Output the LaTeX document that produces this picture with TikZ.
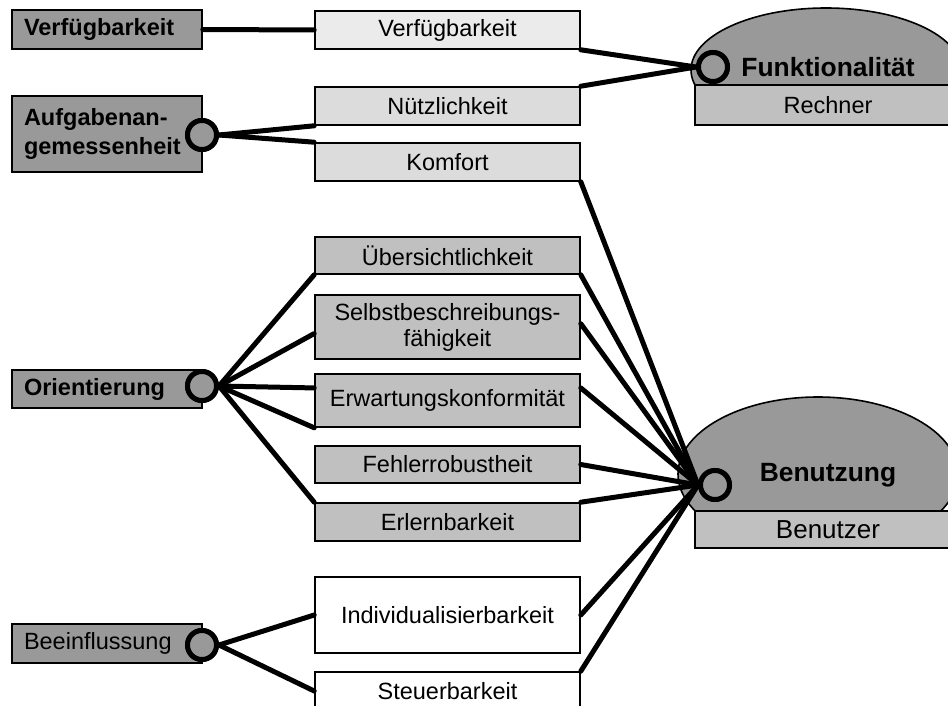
\documentclass[tikz,border=0pt]{standalone}
\usepackage{fontspec}
\setmainfont{Liberation Sans}
\usetikzlibrary{calc}
\definecolor{gdark}{HTML}{999999}
\definecolor{gmid}{HTML}{C0C0C0}
\definecolor{glight}{HTML}{DCDCDC}
\definecolor{gxlight}{HTML}{EBEBEB}
\begin{document}
\begin{tikzpicture}[x=1pt,y=-1pt,
  every node/.style={font=\fontsize{23.5}{29}\selectfont, text=black},
  leftbox/.style={draw=black, line width=1.6pt, fill=gdark, minimum width=190pt, text width=166pt, inner xsep=12pt, align=left, inner ysep=0pt},
  midbox/.style={draw=black, line width=1.6pt, minimum width=265pt, align=center, inner ysep=0pt, inner xsep=0pt},
  basebox/.style={draw=black, line width=1.6pt, fill=gmid, minimum width=266pt, inner ysep=0pt},
  knob/.style={circle, draw=black, line width=5pt, fill=gdark, minimum size=29pt, inner sep=0pt},
  conn/.style={line width=5pt, line cap=round}
]
\useasboundingbox (0,0) rectangle (948,706);
\fill[white] (0,0) rectangle (948,706);

% domes
\begin{scope}
  \clip (600,0) rectangle (1000,87);
  \filldraw[fill=gdark, draw=black, line width=1.6pt] (826,70) ellipse [x radius=135pt, y radius=62pt];
\end{scope}
\begin{scope}
  \clip (600,380) rectangle (1000,511);
  \filldraw[fill=gdark, draw=black, line width=1.6pt] (818,474) ellipse [x radius=140pt, y radius=77pt];
\end{scope}
\node[basebox, minimum height=40pt] (rech) at (828,105) {Rechner};
\node[basebox, minimum height=37pt, font=\fontsize{26}{30}\selectfont] (benr) at (828,529.5) {Benutzer};
\node[font=\fontsize{26.4}{30}\bfseries] (funk) at (828,67) {Funktionalität};
\node[font=\fontsize{26.4}{30}\bfseries] (benu) at (828,475) {Benutzung};

% left boxes
\node[leftbox, minimum height=39pt, font=\fontsize{23.5}{29}\bfseries] (verf1) at (107,29.5) {Verfügbarkeit};
\node[leftbox, minimum height=76pt, font=\fontsize{23.5}{29}\bfseries] (aufg) at (107,134) {Aufgabenan-\\gemessenheit};
\node[leftbox, minimum height=38pt, font=\fontsize{23.5}{29}\bfseries] (orie) at (107,389) {Orientierung};
\node[leftbox, minimum height=39pt] (beei) at (107,643.5) {Beeinflussung};

% middle boxes
\node[midbox, fill=gxlight, minimum height=38pt] (verf2) at (447.5,30) {Verfügbarkeit};
\node[midbox, fill=glight, minimum height=38pt] (nuetz) at (447.5,106) {Nützlichkeit};
\node[midbox, fill=glight, minimum height=38pt] (komf) at (447.5,162) {Komfort};
\node[midbox, fill=gmid, minimum height=37pt] (ueber) at (447.5,255.5) {Übersichtlichkeit};
\node[midbox, fill=gmid, minimum height=64pt, font=\fontsize{23.5}{26}\selectfont] (selbst) at (447.5,327) {Selbstbeschreibungs-\\fähigkeit};
\node[midbox, fill=gmid, minimum height=53pt] (erw) at (447.5,400.5) {Erwartungskonformität};
\node[midbox, fill=gmid, minimum height=37pt] (fehl) at (447.5,464.5) {Fehlerrobustheit};
\node[midbox, fill=gmid, minimum height=38pt] (erl) at (447.5,522) {Erlernbarkeit};
\node[midbox, fill=white, minimum height=76pt] (indiv) at (447.5,615) {Individualisierbarkeit};
\node[midbox, fill=white, minimum height=38pt] (steu) at (447.5,691) {Steuerbarkeit};

% knobs
\node[knob] (cA) at (202,135) {};
\node[knob] (cO) at (202,386) {};
\node[knob] (cB) at (202,645) {};
\node[knob] (cF) at (713,67) {};
\node[knob] (cU) at (715,485) {};

% connectors
\draw[conn] (verf1.east) -- (verf2.west);
\draw[conn] (cA.east) -- (nuetz.south west);
\draw[conn] (cA.east) -- (komf.north west);
\draw[conn] (verf2.south east) -- (cF.west);
\draw[conn] (nuetz.north east) -- (cF.west);
\draw[conn] (komf.south east) -- (cU.west);
\draw[conn] (cO.east) -- (ueber.south west);
\draw[conn] (ueber.south east) -- (cU.west);
\draw[conn] (cO.east) -- ($(selbst.north west)!0.6!(selbst.south west)$);
\draw[conn] ($(selbst.north east)!0.45!(selbst.south east)$) -- (cU.west);
\draw[conn] (cO.east) -- ($(erw.north west)!0.27!(erw.south west)$);
\draw[conn] ($(erw.north east)!0.27!(erw.south east)$) -- (cU.west);
\draw[conn] (cO.east) -- (erw.south west);
\draw[conn] (cO.east) -- (erl.north west);
\draw[conn] (fehl.east) -- (cU.west);
\draw[conn] (erl.north east) -- (cU.west);
\draw[conn] (cB.east) -- (indiv.west);
\draw[conn] (indiv.east) -- (cU.west);
\draw[conn] (cB.east) -- (steu.west);
\draw[conn] (steu.north east) -- (cU.west);

% knobs on top of connectors
\node[knob] at (cA) {};
\node[knob] at (cO) {};
\node[knob] at (cB) {};
\node[knob] at (cF) {};
\node[knob] at (cU) {};
\end{tikzpicture}
\end{document}
